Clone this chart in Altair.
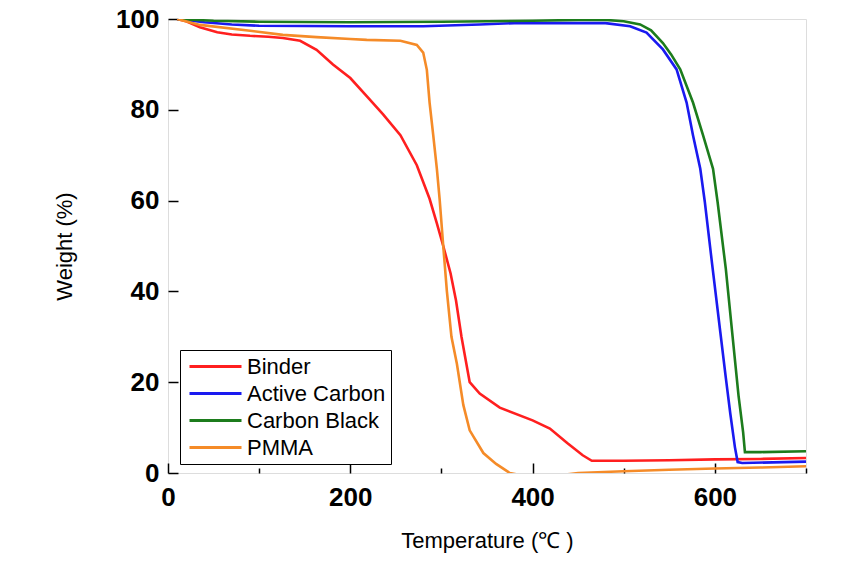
import altair as alt
import pandas as pd

# ---- data ----
binder_t = [10, 20, 35, 54, 70, 90, 110, 126, 145, 163, 181, 200, 218, 236, 255, 273, 287, 295, 302, 310, 316, 322, 331, 342, 364, 400, 419, 438, 455, 465, 500, 550, 600, 650, 700]
binder_w = [100, 99.5, 98.2, 97.1, 96.6, 96.3, 96.1, 95.8, 95.2, 93.2, 90, 87, 83, 79, 74.4, 67.8, 60.4, 55, 50, 44, 38, 30, 20, 17.5, 14.4, 11.6, 9.8, 6.6, 3.9, 2.7, 2.7, 2.8, 3.0, 3.1, 3.3]

active_t = [10, 40, 70, 100, 200, 280, 342, 380, 480, 507, 525, 543, 558, 569, 576, 584, 589, 597, 606, 612, 617, 622, 625, 630, 700]
active_w = [100, 99.3, 98.8, 98.5, 98.4, 98.4, 98.8, 99.1, 99.1, 98.4, 97, 93.3, 88.9, 81.6, 74.4, 67, 59.7, 46, 31, 21, 13, 5.7, 2.4, 2.2, 2.5]

black_t = [10, 50, 100, 200, 300, 400, 450, 480, 500, 518, 530, 543, 552, 562, 576, 587, 598, 603, 612, 619, 626, 631, 633, 650, 700]
black_w = [100, 99.6, 99.4, 99.3, 99.4, 99.6, 99.8, 99.8, 99.5, 98.8, 97.5, 94.7, 92.2, 88.9, 81.6, 74.4, 67, 59.7, 45, 31, 17, 9, 4.6, 4.6, 4.8]

pmma_t = [10, 35, 90, 126, 163, 200, 218, 255, 273, 280, 284, 287, 291, 295, 298, 302, 306, 311, 317, 324, 331, 346, 360, 375, 400, 430, 450, 500, 550, 600, 650, 700]
pmma_w = [100, 98.7, 97.4, 96.5, 96, 95.6, 95.4, 95.2, 94.3, 92.6, 88.8, 81.6, 74.4, 67, 60.4, 50, 40, 30, 24, 15, 9.4, 4.4, 2, 0, -1, -0.5, 0, 0.4, 0.7, 1.0, 1.2, 1.5]

series = ["Binder", "Active Carbon", "Carbon Black", "PMMA"]
colors = ["#FF1F1F", "#1A1AF0", "#1C7C1C", "#F58B28"]

x_ticks = [0, 100, 200, 300, 400, 500, 600, 700]
y_ticks = [0, 20, 40, 60, 80, 100]

rows = []
for name, ts, ws in [("Binder", binder_t, binder_w), ("Active Carbon", active_t, active_w),
                     ("Carbon Black", black_t, black_w), ("PMMA", pmma_t, pmma_w)]:
    for i, (t, w) in enumerate(zip(ts, ws)):
        rows.append({"Sample": name, "T": t, "W": w, "i": i})
df = pd.DataFrame(rows)

W_PLOT, H_PLOT = 638, 454
FONT = "Liberation Sans"

xscale = alt.Scale(domain=[0, 700], nice=False, zero=False)
yscale = alt.Scale(domain=[0, 100], nice=False, zero=False)

lines = alt.Chart(df).mark_line(strokeWidth=2.6, clip=True).encode(
    x=alt.X("T:Q", scale=xscale,
            axis=alt.Axis(title="Temperature (℃ )", values=x_ticks[::2], ticks=False, domain=False,
                          grid=False, labelFlush=False, labelFont=FONT, labelFontWeight="bold",
                          labelFontSize=26, labelColor="black", labelPadding=11, titleFont=FONT,
                          titleFontWeight="normal", titleFontSize=22, titleColor="black", titlePadding=20)),
    y=alt.Y("W:Q", scale=yscale,
            axis=alt.Axis(title="Weight (%)", values=y_ticks, ticks=False, domain=False, grid=False,
                          labelFlush=False, labelFont=FONT, labelFontWeight="bold", labelFontSize=26,
                          labelColor="black", labelPadding=9, titleFont=FONT, titleFontWeight="normal",
                          titleFontSize=22, titleColor="black", titlePadding=39)),
    color=alt.Color("Sample:N", scale=alt.Scale(domain=series, range=colors), sort=series,
                    legend=alt.Legend(title=None, orient="none", legendX=12, legendY=331,
                                      symbolType="M-2.6,0H2.6", symbolStrokeWidth=3, symbolSize=400,
                                      symbolFillColor="transparent", symbolOffset=19,
                                      labelFont=FONT, labelFontSize=22, labelColor="black",
                                      labelOffset=20, rowPadding=4, padding=5,
                                      strokeColor="black", fillColor="white")),
    order="i:Q",
)

ticks = alt.Chart(df).mark_point(opacity=0).encode(
    x=alt.X("T:Q", scale=xscale,
            axis=alt.Axis(orient="top", offset=-H_PLOT, values=x_ticks, labels=False, domain=False,
                          grid=False, title=None, tickColor="black", tickWidth=1.5,
                          tickSize={"condition": {"test": "datum.value % 200 === 0", "value": 10}, "value": 5})),
    y=alt.Y("W:Q", scale=yscale,
            axis=alt.Axis(orient="right", offset=-W_PLOT, values=y_ticks, labels=False, domain=False,
                          grid=False, title=None, tickColor="black", tickWidth=1.5, tickSize=10)),
)

chart = alt.layer(lines, ticks).resolve_axis(x="independent", y="independent").properties(
    width=W_PLOT, height=H_PLOT,
    autosize=alt.AutoSizeParams(type="none"),
    padding={"left": 160, "top": 11, "right": 49, "bottom": 95},
).configure_view(stroke="black", strokeWidth=2).configure(background="white")

chart.save("out.html", embed_options={"renderer": "svg", "actions": False})
